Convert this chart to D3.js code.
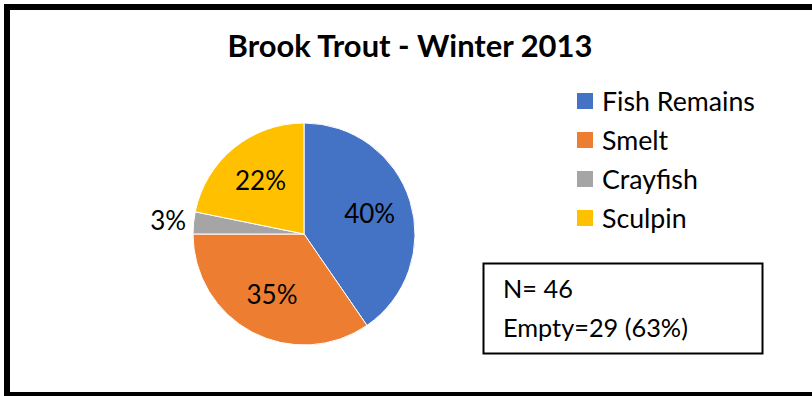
<!DOCTYPE html>
<html>
<head>
<meta charset="utf-8">
<style>
body {
   margin: 0;
   background: #fff;
}
svg text {
   font-family: Lato, "Noto Sans", sans-serif;
   fill: #000;
}
</style>
</head>
<body>
<div id="chart"></div>
<script src="https://d3js.org/d3.v7.min.js"></script>
<script>

// chart data
var title = "Brook Trout - Winter 2013";
var categories = ["Fish Remains", "Smelt", "Crayfish", "Sculpin"];
var values = [40.4, 34.6, 3.2, 21.8];
var colors = ["#4472C4", "#ED7D31", "#A5A5A5", "#FFC000"];
var notes = ["N= 46", "Empty=29 (63%)"];

var width = 812, height = 396;

var svg = d3.select("#chart").append("svg")
    .attr("width", width)
    .attr("height", height);

// outer frame (right side runs off the picture)
svg.append("rect")
    .attr("x", 7).attr("y", 7)
    .attr("width", 820).attr("height", 388)
    .attr("fill", "none")
    .attr("stroke", "#000")
    .attr("stroke-width", 6);

// shrink/grow a text so it spans a given width
function fit(sel, w) {
  sel.each(function() {
    var size = parseFloat(d3.select(this).style("font-size"));
    var len = this.getComputedTextLength();
    d3.select(this).style("font-size", (size * w / len) + "px");
  });
}

svg.append("text")
    .attr("x", 410).attr("y", 57)
    .attr("text-anchor", "middle")
    .style("font-weight", "bold")
    .style("font-size", "28px")
    .text(title)
    .call(fit, 365);

// pie
var r = 111;
var g = svg.append("g").attr("transform", "translate(304,234)");

var pie = d3.pie().sort(null).value(function(d) { return d; });
var arcs = pie(values);
var arc = d3.arc().innerRadius(0).outerRadius(r);
var inLabel = d3.arc().innerRadius(r * 0.62).outerRadius(r * 0.62);
var outLabel = d3.arc().innerRadius(r * 1.23).outerRadius(r * 1.23);
var fmt = d3.format(".0f");

g.selectAll("path")
    .data(arcs)
  .enter().append("path")
    .attr("d", arc)
    .attr("fill", function(d, i) { return colors[i]; })
    .attr("stroke", "#fff")
    .attr("stroke-width", 1);

g.selectAll("text.lbl")
    .data(arcs)
  .enter().append("text")
    .attr("class", "lbl")
    .attr("transform", function(d) {
      var small = d.value < 5;
      return "translate(" + (small ? outLabel : inLabel).centroid(d) + ")";
    })
    .attr("text-anchor", "middle")
    .attr("dy", "0.36em")
    .style("font-size", "26px")
    .text(function(d) { return fmt(d.value) + "%"; });

// legend
var legend = svg.selectAll("g.legend")
    .data(categories)
  .enter().append("g")
    .attr("class", "legend")
    .attr("transform", function(d, i) { return "translate(577," + (93 + i * 39) + ")"; });

legend.append("rect")
    .attr("width", 16).attr("height", 16)
    .attr("fill", function(d, i) { return colors[i]; });

legend.append("text")
    .attr("x", 25).attr("y", 8)
    .attr("dy", "0.36em")
    .style("font-size", "23px")
    .text(function(d) { return d; });

fit(legend.filter(function(d, i) { return i == 0; }).select("text"), 153);
var legSize = legend.filter(function(d, i) { return i == 0; }).select("text").style("font-size");
legend.selectAll("text").style("font-size", legSize);

// note box
svg.append("rect")
    .attr("x", 483.5).attr("y", 263.5)
    .attr("width", 279).attr("height", 90)
    .attr("fill", "#fff")
    .attr("stroke", "#000")
    .attr("stroke-width", 2);

var noteText = svg.selectAll("text.note")
    .data(notes)
  .enter().append("text")
    .attr("class", "note")
    .attr("x", 503)
    .attr("y", function(d, i) { return 298 + i * 39; })
    .style("font-size", "23px")
    .text(function(d) { return d; });

fit(noteText.filter(function(d, i) { return i == 1; }), 185);
noteText.style("font-size", noteText.filter(function(d, i) { return i == 1; }).style("font-size"));

</script>
</body>
</html>
